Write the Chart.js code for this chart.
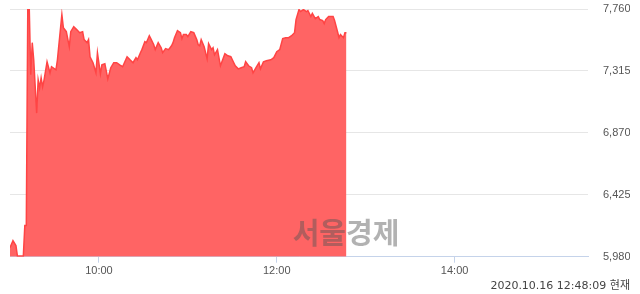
<!DOCTYPE html>
<html><head><meta charset="utf-8">
<script src="https://cdn.jsdelivr.net/npm/chart.js@4/dist/chart.umd.min.js"></script>
<style>html,body{margin:0;padding:0;background:#fff}#wrap{width:640px;height:294px;position:relative}</style>
</head><body><div id="wrap"><canvas id="c"></canvas></div>
<script>
const times = ['09:00','09:02','09:04','09:05','09:09','09:10','09:11','09:12','09:13','09:14','09:15','09:16','09:18','09:19','09:20','09:21','09:22','09:23','09:25','09:27','09:28','09:31','09:32','09:35','09:36','09:38','09:40','09:41','09:43','09:45','09:47','09:49','09:50','09:52','09:53','09:54','09:56','09:57','09:58','09:59','10:01','10:02','10:04','10:06','10:08','10:10','10:12','10:14','10:16','10:19','10:21','10:23','10:25','10:26','10:28','10:29','10:31','10:32','10:34','10:35','10:37','10:38','10:40','10:42','10:43','10:45','10:47','10:49','10:50','10:51','10:53','10:55','10:56','10:57','10:59','11:00','11:02','11:04','11:06','11:07','11:08','11:09','11:11','11:13','11:14','11:16','11:17','11:18','11:20','11:22','11:23','11:25','11:27','11:29','11:31','11:32','11:34','11:36','11:38','11:39','11:41','11:43','11:44','11:46','11:48','11:49','11:51','11:53','11:56','11:58','12:00','12:02','12:04','12:06','12:08','12:10','12:12','12:13','12:15','12:16','12:18','12:20','12:21','12:23','12:24','12:26','12:28','12:29','12:31','12:32','12:33','12:35','12:38','12:39','12:41','12:42','12:43','12:45','12:46','12:47'];
const prices = [6045,6095,6060,5985,5985,6204,6204,7760,7760,7287,7518,7395,7012,7251,7193,7265,7200,7251,7381,7301,7345,7323,7395,7720,7626,7597,7489,7597,7633,7612,7590,7597,7540,7518,7540,7417,7374,7338,7301,7446,7294,7359,7367,7258,7338,7374,7374,7359,7345,7417,7395,7374,7410,7395,7446,7468,7525,7518,7568,7547,7503,7468,7518,7482,7446,7475,7468,7496,7518,7554,7605,7590,7547,7576,7576,7561,7597,7590,7540,7503,7496,7540,7489,7402,7511,7468,7482,7431,7468,7352,7381,7439,7424,7417,7374,7352,7330,7338,7345,7381,7352,7338,7301,7338,7374,7330,7381,7388,7395,7410,7453,7468,7547,7554,7554,7568,7590,7684,7756,7742,7756,7742,7749,7706,7728,7691,7706,7684,7677,7655,7684,7706,7706,7677,7597,7554,7576,7554,7590,7590];
const yTicks = [5980, 6425, 6870, 7315, 7760];
const xTickTimes = ['10:00', '12:00', '14:00'];
const sessionStart = '09:00';
const sessionEnd = '15:30';
const stampText = '2020.10.16 12:48:09 현재';
const watermarkText = '서울경제';

function toMin(t){const [h,m]=t.split(':').map(Number);const [h0,m0]=sessionStart.split(':').map(Number);return (h*60+m)-(h0*60+m0);}
const points = times.map((t,i)=>({x:toMin(t), y:prices[i]}));

const watermark = {
  id:'watermark',
  afterDatasetsDraw(chart){
    const ctx = chart.ctx;
    ctx.save();
    ctx.font = 'bold 29px "Noto Sans CJK KR"';
    ctx.fillStyle = 'rgba(85,85,85,0.45)';
    ctx.textAlign = 'center';
    ctx.textBaseline = 'middle';
    ctx.fillText(watermarkText, 346, 233);
    ctx.restore();
  }
};

new Chart(document.getElementById('c'), {
  type:'line',
  data:{datasets:[{
    data: points,
    borderColor:'#ff4444',
    borderWidth:1.5,
    backgroundColor:'#ff6464',
    fill:'start',
    pointRadius:0,
    tension:0
  }]},
  options:{
    responsive:true, maintainAspectRatio:false, animation:false,
    layout:{padding:{left:10,right:10,top:9,bottom:0}},
    plugins:{
      legend:{display:false}, tooltip:{enabled:false},
      title:{display:true, text:stampText, position:'bottom', align:'end',
        color:'#444', font:{family:'"DejaVu Sans","Noto Sans CJK KR"', size:11, weight:'normal', lineHeight:1.3}, padding:{top:0,bottom:1}}
    },
    scales:{
      x:{type:'linear', min:toMin(sessionStart), max:toMin(sessionEnd),
        afterBuildTicks(s){ s.ticks = xTickTimes.map(t=>({value:toMin(t)})); },
        afterFit(s){ s.height = 22; s.paddingLeft = 0; s.paddingRight = 0; },
        grid:{drawOnChartArea:false, drawTicks:true, tickLength:6, color:'#c5d3ea'},
        border:{color:'#c5d3ea'},
        ticks:{autoSkip:false, maxRotation:0, padding:2, color:'#555',
          font:{family:'"Liberation Sans"', size:11},
          callback(v){ const i = xTickTimes.findIndex(t=>toMin(t)===v); return i>=0?xTickTimes[i]:''; }}
      },
      y:{position:'right', min:yTicks[0], max:yTicks[yTicks.length-1],
        afterBuildTicks(s){ s.ticks = yTicks.map(v=>({value:v})); },
        afterFit(s){ s.width = 42; s.paddingTop = 0; s.paddingBottom = 0; },
        grid:{color:'#e6e6e6', drawTicks:false},
        border:{display:false},
        ticks:{padding:15, color:'#555', font:{family:'"Liberation Sans"', size:11},
          callback(v){ return v.toLocaleString('en-US'); }}
      }
    }
  },
  plugins:[watermark]
});
</script></body></html>
